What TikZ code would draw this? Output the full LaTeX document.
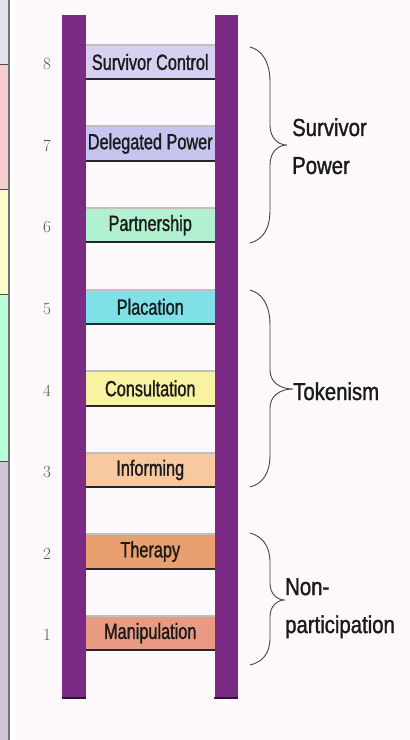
\documentclass[tikz,border=0pt]{standalone}
\usepackage{fontspec}
\newfontfamily\rungfont[FakeStretch=0.74,FakeBold=1.2]{Liberation Sans}
\newfontfamily\sidefont[FakeStretch=0.83,FakeBold=1.2]{Liberation Sans}
\definecolor{bgc}{HTML}{FCF8FC}
\definecolor{railc}{HTML}{7B2B83}
\definecolor{railedge}{HTML}{3A1040}
\definecolor{txtc}{HTML}{1A1A1A}
\definecolor{numc}{HTML}{555555}
\definecolor{bracec}{HTML}{444444}
\definecolor{c8}{HTML}{D8D0F0}
\definecolor{c7}{HTML}{C8C4F0}
\definecolor{c6}{HTML}{B2F0D2}
\definecolor{c5}{HTML}{80E0E8}
\definecolor{c4}{HTML}{F8F2A2}
\definecolor{c3}{HTML}{F8C8A0}
\definecolor{c2}{HTML}{E8A070}
\definecolor{c1}{HTML}{E89A82}
\definecolor{s1}{HTML}{E6E0EC}
\definecolor{s2}{HTML}{F8CCCC}
\definecolor{s3}{HTML}{FEFCC8}
\definecolor{s4}{HTML}{B8FDD8}
\definecolor{s5}{HTML}{D2C4D8}
\tikzset{
  rungbox/.style={draw=none, minimum width=128.5, minimum height=34, inner sep=0pt,
    font=\rungfont\fontsize{22}{24}\selectfont, text=txtc},
  rungtop/.style={draw=gray!50, line width=2pt},
  rungbot/.style={draw=black!85, line width=2pt},
  railbox/.style={fill=railc, draw=none, inner sep=0pt, minimum height=683},
  numlab/.style={font=\fontsize{17}{20}\selectfont, text=numc, inner sep=0pt},
  sidelab/.style={font=\sidefont\fontsize{24.5}{38}\selectfont, text=txtc, inner sep=0pt, align=left},
  bracel/.style={draw=bracec, line width=0.9pt}
}
\begin{document}
\begin{tikzpicture}[x=1pt,y=-1pt]
\useasboundingbox (0,0) rectangle (410,740);
\fill[bgc] (0,0) rectangle (410,740);
% left strip
\fill[white] (8,0) rectangle (15,740);
\fill[s1] (0,0) rectangle (8,64);
\fill[s2] (0,64) rectangle (8,189);
\fill[s3] (0,189) rectangle (8,294);
\fill[s4] (0,294) rectangle (8,461);
\fill[s5] (0,461) rectangle (8,740);
\foreach \yy in {64,189,294,461} \draw[black!70, line width=0.6pt] (0,\yy) -- (8,\yy);
\fill[black!55] (8,0) rectangle (10,740);
% rails
\node[railbox, minimum width=24] (lrail) at (74,356.5) {};
\node[railbox, minimum width=23] (rrail) at (226,356.5) {};
\draw[railedge, line width=2pt] (lrail.south west) -- (lrail.south east);
\draw[railedge, line width=2pt] (rrail.south west) -- (rrail.south east);
% rungs
\foreach \i/\lab/\col in {8/Survivor Control/c8, 7/Delegated Power/c7, 6/Partnership/c6, 5/Placation/c5,
  4/Consultation/c4, 3/Informing/c3, 2/Therapy/c2, 1/Manipulation/c1}{
  \pgfmathsetmacro{\cy}{62 + (8-\i)*81.6}
  \node[rungbox, fill=\col] (r\i) at (150.25,\cy) {\lab};
  \draw[rungtop] (r\i.north west) -- (r\i.north east);
  \draw[rungbot] (r\i.south west) -- (r\i.south east);
  \node[numlab] (n\i) at (47,\cy+2) {\i};
}
% braces
\draw[bracel] (250,47) .. controls (262,50) and (270,62) .. (270,82) -- (270,125)
  .. controls (270,138) and (278,145) .. (287,145)
  .. controls (278,145) and (270,152) .. (270,165) -- (270,210)
  .. controls (270,230) and (262,240) .. (250,243);
\draw[bracel] (250,290) .. controls (262,293) and (270,305) .. (270,325) -- (270,370)
  .. controls (270,382) and (280,389) .. (293,389)
  .. controls (280,389) and (270,396) .. (270,408) -- (270,455)
  .. controls (270,474) and (262,484) .. (250,487);
\draw[bracel] (250,533) .. controls (262,536) and (270,546) .. (270,562) -- (270,583)
  .. controls (270,594) and (277,600) .. (285,600)
  .. controls (277,600) and (270,606) .. (270,617) -- (270,638)
  .. controls (270,654) and (262,662) .. (250,665);
% side labels
\node[sidelab, anchor=north west] (sp) at (292,118) {Survivor\\Power};
\node[sidelab, anchor=base west] (tk) at (293,400) {Tokenism};
\node[sidelab, anchor=north west] (np) at (285,578) {Non-\\participation};
\end{tikzpicture}
\end{document}
